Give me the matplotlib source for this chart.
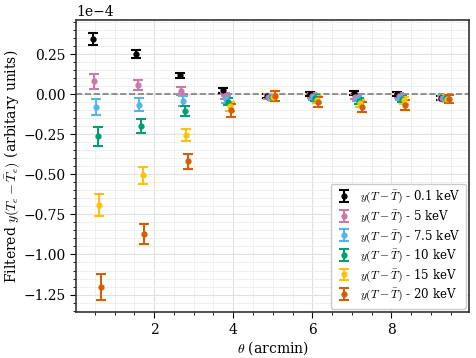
import numpy as np
import matplotlib
matplotlib.use("Agg")
import matplotlib.pyplot as plt
from matplotlib.ticker import MultipleLocator

plt.rcParams['font.family'] = ['DejaVu Serif']
plt.rcParams['mathtext.fontset'] = 'cm'

# bin centres (arcmin)
theta = [0.55, 1.65, 2.75, 3.85, 4.95, 6.05, 7.15, 8.25, 9.35]

labels = [r"$y(T-\bar{T})$ - 0.1 keV", r"$y(T-\bar{T})$ - 5 keV",
          r"$y(T-\bar{T})$ - 7.5 keV", r"$y(T-\bar{T})$ - 10 keV",
          r"$y(T-\bar{T})$ - 15 keV", r"$y(T-\bar{T})$ - 20 keV"]
colors = ["#000000", "#CC79A7", "#56B4E9", "#009E73", "#FFC20A", "#D55E00"]

# values in units of 1e-4
vals_01 = [0.344, 0.250, 0.117, 0.025, -0.012, 0.000, 0.008, 0.003, -0.022]
vals_5 = [0.081, 0.056, 0.020, -0.012, -0.015, -0.010, -0.015, -0.010, -0.024]
vals_75 = [-0.079, -0.065, -0.042, -0.033, -0.016, -0.020, -0.028, -0.020, -0.025]
vals_10 = [-0.263, -0.200, -0.106, -0.048, -0.018, -0.026, -0.040, -0.028, -0.026]
vals_15 = [-0.690, -0.506, -0.254, -0.075, -0.018, -0.035, -0.058, -0.037, -0.028]
vals_20 = [-1.200, -0.871, -0.419, -0.100, -0.013, -0.050, -0.080, -0.069, -0.031]

errs_01 = [0.037, 0.025, 0.015, 0.015, 0.012, 0.012, 0.012, 0.012, 0.012]
errs_5 = [0.047, 0.031, 0.025, 0.018, 0.015, 0.015, 0.015, 0.015, 0.015]
errs_75 = [0.052, 0.040, 0.030, 0.020, 0.017, 0.017, 0.017, 0.017, 0.017]
errs_10 = [0.058, 0.045, 0.030, 0.022, 0.019, 0.019, 0.019, 0.019, 0.019]
errs_15 = [0.070, 0.052, 0.039, 0.027, 0.022, 0.022, 0.022, 0.022, 0.022]
errs_20 = [0.081, 0.064, 0.045, 0.040, 0.030, 0.030, 0.030, 0.030, 0.025]

all_vals = [vals_01, vals_5, vals_75, vals_10, vals_15, vals_20]
all_errs = [errs_01, errs_5, errs_75, errs_10, errs_15, errs_20]
offsets = [-0.105, -0.063, -0.021, 0.021, 0.063, 0.105]

fig = plt.figure(figsize=(4.76, 3.58), dpi=100)
ax = fig.add_axes([0.160, 0.128, 0.826, 0.816])

ax.axhline(0, color="grey", ls="--", lw=1.2, zorder=1)
for v, e, c, lab, off in zip(all_vals, all_errs, colors, labels, offsets):
    x = np.array(theta) + off
    ax.errorbar(x, np.array(v) * 1e-4, yerr=np.array(e) * 1e-4, fmt='o', color=c,
                ms=3.5, capsize=3.5, elinewidth=1.5, capthick=1.5, label=lab, zorder=3)

ax.set_xlim(0.03, 9.97)
ax.set_ylim(-1.36e-4, 0.4625e-4)
ax.xaxis.set_major_locator(MultipleLocator(2))
ax.xaxis.set_minor_locator(MultipleLocator(0.5))
ax.yaxis.set_major_locator(MultipleLocator(0.25e-4))
ax.yaxis.set_minor_locator(MultipleLocator(0.05e-4))
ax.ticklabel_format(axis='y', style='sci', scilimits=(0, 0), useMathText=False)
ax.grid(True, which='major', color='#e0e0e0', lw=0.8, zorder=0)
ax.grid(True, which='minor', color='#ececec', lw=0.6, zorder=0)
ax.set_axisbelow(True)
ax.tick_params(which='both', direction='out', labelsize=10)
ax.tick_params(which='major', length=4)
ax.tick_params(which='minor', length=2)
for s in ax.spines.values():
    s.set_color('#333333')
    s.set_linewidth(1.2)

ax.set_xlabel(r"$\theta$ (arcmin)", fontsize=10, labelpad=2)
ax.set_ylabel(r"Filtered $y(T_e-\bar{T}_e)$ (arbitary units)", fontsize=10, labelpad=2)
ax.yaxis.get_offset_text().set_fontsize(10)

ax.legend(loc='lower right', fontsize=8.5, frameon=True, framealpha=1.0,
          edgecolor='#cccccc', handlelength=1.3, handletextpad=0.7, borderpad=0.45,
          labelspacing=0.28, borderaxespad=0.3)

fig.savefig("out.png", dpi=100)
